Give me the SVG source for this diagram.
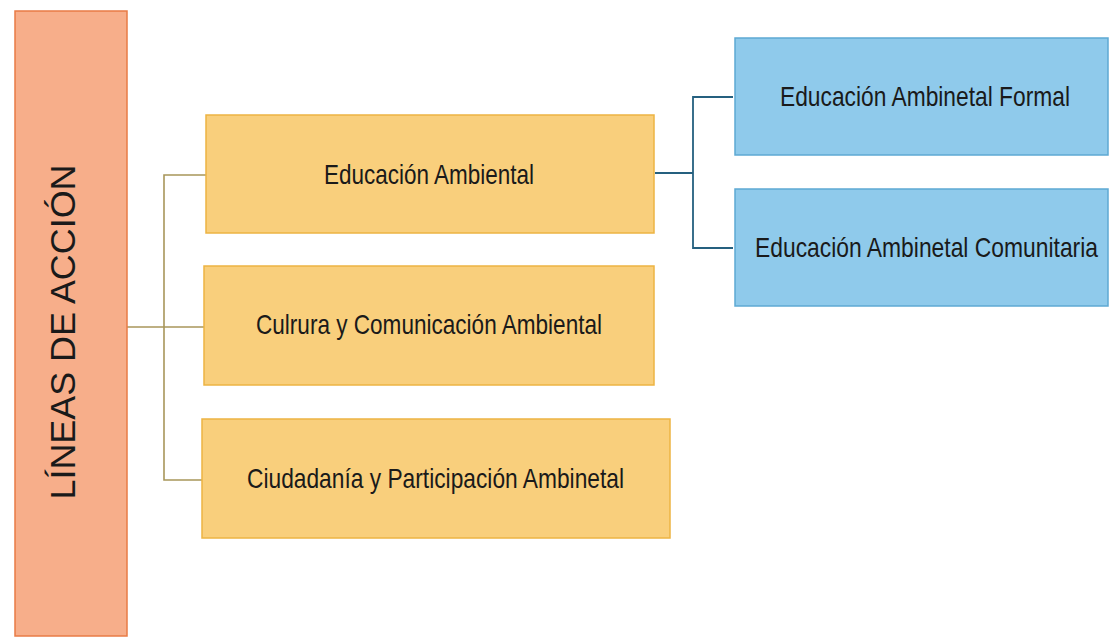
<svg xmlns="http://www.w3.org/2000/svg" width="1109" height="637" viewBox="0 0 1109 637">
<style>
.bar{fill:#F7AE8A;stroke:#E97B45;stroke-width:1.5}
.yel{fill:#F9CF7C;stroke:#EDB443;stroke-width:1.5}
.blu{fill:#8FCAEB;stroke:#5EA9D3;stroke-width:1.5}
.t{font-family:"Liberation Sans",Arial,sans-serif;font-size:28px;fill:#1a1a1a;text-anchor:middle}
.vt{font-family:"Liberation Sans",Arial,sans-serif;font-size:35px;fill:#1a1a1a;text-anchor:middle}
.c1{fill:none;stroke:#A8965A;stroke-width:1.6}
.c2{fill:none;stroke:#25607F;stroke-width:1.8}
</style>
<rect width="1109" height="637" fill="#ffffff"/>
<g id="connectors">
<path class="c1" d="M207 175 H164 V480 H203"/>
<path class="c1" d="M126 327 H204"/>
<path class="c2" d="M655 173 H693"/>
<path class="c2" d="M733 97 H693 V248 H733"/>
</g>
<g id="lineas">
<rect class="bar" x="15" y="11" width="112" height="625"/>
<text class="vt" transform="translate(75 332) rotate(-90)" x="0" y="0" textLength="335" lengthAdjust="spacingAndGlyphs">LÍNEAS DE ACCIÓN</text>
</g>
<g id="educacion">
<rect class="yel" x="206" y="115" width="448" height="118"/>
<text class="t" x="429" y="183.5" textLength="210" lengthAdjust="spacingAndGlyphs">Educación Ambiental</text>
</g>
<g id="cultura">
<rect class="yel" x="204" y="266" width="450" height="119"/>
<text class="t" x="429" y="334" textLength="346" lengthAdjust="spacingAndGlyphs">Culrura y Comunicación Ambiental</text>
</g>
<g id="ciudadania">
<rect class="yel" x="202" y="419" width="468" height="119"/>
<text class="t" x="435.5" y="488" textLength="377" lengthAdjust="spacingAndGlyphs">Ciudadanía y Participación Ambinetal</text>
</g>
<g id="formal">
<rect class="blu" x="735" y="38" width="373" height="117"/>
<text class="t" x="925" y="106" textLength="290" lengthAdjust="spacingAndGlyphs">Educación Ambinetal Formal</text>
</g>
<g id="comunitaria">
<rect class="blu" x="735" y="189" width="373" height="117"/>
<text class="t" x="926.5" y="257" textLength="343" lengthAdjust="spacingAndGlyphs">Educación Ambinetal Comunitaria</text>
</g>
</svg>
